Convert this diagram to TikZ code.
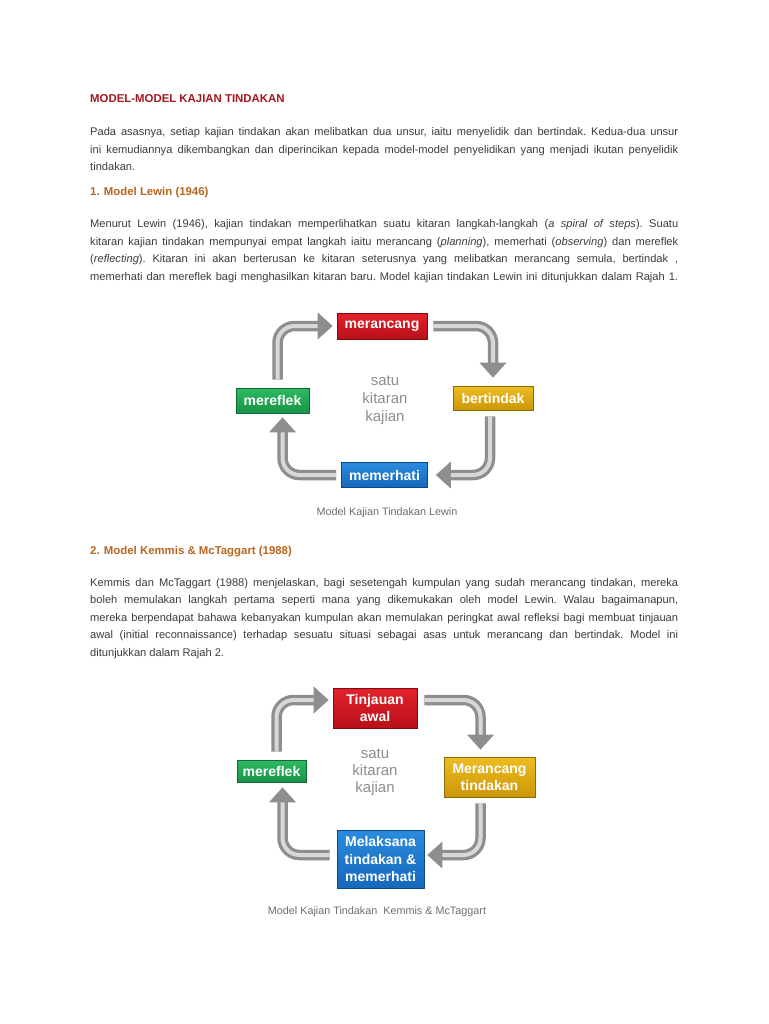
\documentclass[tikz,border=0pt]{standalone}
\usepackage{fontspec}
\setmainfont{Liberation Sans}
\usetikzlibrary{arrows.meta, positioning}
\definecolor{titlered}{HTML}{A3191E}
\definecolor{headbrown}{HTML}{B8661E}
\definecolor{bodygray}{HTML}{3C3C3C}
\definecolor{centergray}{HTML}{8E8E8E}
\definecolor{captiongray}{HTML}{6E6E6E}
\definecolor{tubedark}{HTML}{8E8E8E}
\definecolor{tubelite}{HTML}{D8D8D8}
\definecolor{redtop}{HTML}{E3222B}
\definecolor{redbot}{HTML}{B8101A}
\definecolor{redline}{HTML}{7E0A10}
\definecolor{goldtop}{HTML}{EDBD22}
\definecolor{goldbot}{HTML}{CC9606}
\definecolor{goldline}{HTML}{8E6A06}
\definecolor{greentop}{HTML}{2EBA62}
\definecolor{greenbot}{HTML}{169446}
\definecolor{greenline}{HTML}{0E6A32}
\definecolor{bluetop}{HTML}{2A8BDE}
\definecolor{bluebot}{HTML}{1668BA}
\definecolor{blueline}{HTML}{0D4884}
\tikzstyle{bodytext} = [anchor=base west, inner sep=0pt, text width=588pt,
    align=justify, text=bodygray, font=\fontsize{11.1}{17.5}\selectfont\frenchspacing]
\tikzstyle{heading} = [anchor=base west, inner sep=0pt,
    font=\fontsize{11.4}{13}\selectfont\bfseries]
\tikzstyle{stepbox} = [rectangle, draw, line width=0.6pt, text=white, align=center,
    inner sep=0pt, font=\fontsize{14}{17.5}\selectfont\bfseries]
\tikzstyle{redbox} = [stepbox, top color=redtop, bottom color=redbot, draw=redline]
\tikzstyle{goldbox} = [stepbox, top color=goldtop, bottom color=goldbot, draw=goldline]
\tikzstyle{greenbox} = [stepbox, top color=greentop, bottom color=greenbot, draw=greenline]
\tikzstyle{bluebox} = [stepbox, top color=bluetop, bottom color=bluebot, draw=blueline]
\tikzstyle{cycletext} = [align=center, text=centergray, font=\fontsize{15}{18}\selectfont]
\tikzstyle{caption} = [text=captiongray, font=\fontsize{10.8}{12}\selectfont]
\tikzstyle{tube} = [line width=10.5pt, draw=tubedark, rounded corners=17pt,
    -{Triangle[width=26pt,length=15pt]}]
\tikzstyle{tubelight} = [line width=4pt, draw=tubelite, rounded corners=17pt]

\begin{document}
\begin{tikzpicture}[x=1pt, y=-1pt]
  \useasboundingbox[fill=white] (0,0) rectangle (768,1024);

  % Text
  \node[heading, text=titlered] (title) at (90,103) {MODEL-MODEL KAJIAN TINDAKAN};
  \node[bodytext] (para1) at (90,136) {Pada asasnya, setiap kajian tindakan akan melibatkan dua unsur, iaitu menyelidik dan bertindak. Kedua-dua unsur\linebreak
    ini kemudiannya dikembangkan dan diperincikan kepada model-model penyelidikan yang menjadi ikutan penyelidik\linebreak
    tindakan.};
  \node[heading, text=headbrown] (head1) at (90,196) {1. Model Lewin (1946)};
  \node[bodytext] (para2) at (90,228) {Menurut Lewin (1946), kajian tindakan memperlihatkan suatu kitaran langkah-langkah (\textit{a spiral of steps}). Suatu\linebreak
    kitaran kajian tindakan mempunyai empat langkah iaitu merancang (\textit{planning}), memerhati (\textit{observing}) dan mereflek\linebreak
    (\textit{reflecting}). Kitaran ini akan berterusan ke kitaran seterusnya yang melibatkan merancang semula, bertindak ,\linebreak
    memerhati dan mereflek bagi menghasilkan kitaran baru. Model kajian tindakan Lewin ini ditunjukkan dalam Rajah 1.\parfillskip=0pt\par};
  \node[heading, text=headbrown] (head2) at (90,554) {2. Model Kemmis \& McTaggart (1988)};
  \node[bodytext] (para3) at (90,586) {Kemmis dan McTaggart (1988) menjelaskan, bagi sesetengah kumpulan yang sudah merancang tindakan, mereka\linebreak
    boleh memulakan langkah pertama seperti mana yang dikemukakan oleh model Lewin. Walau bagaimanapun,\linebreak
    mereka berpendapat bahawa kebanyakan kumpulan akan memulakan peringkat awal refleksi bagi membuat tinjauan\linebreak
    awal (initial reconnaissance) terhadap sesuatu situasi sebagai asas untuk merancang dan bertindak. Model ini\linebreak
    ditunjukkan dalam Rajah 2.};

  % Rajah 1: Lewin
  \node[redbox, minimum width=90pt, minimum height=26pt] (merancang) at (382,326) {merancang};
  \node[goldbox, minimum width=80pt, minimum height=24pt] (bertindak) at (493,398) {bertindak};
  \node[greenbox, minimum width=73pt, minimum height=25pt] (mereflek) at (272.5,400.5) {mereflek};
  \node[bluebox, minimum width=86pt, minimum height=25pt] (memerhati) at (384.5,475) {memerhati};
  \node[cycletext] (kitaran) at (385,400) {satu\\kitaran\\kajian};
  \node[caption] (cap1) at (387,513) {Model Kajian Tindakan Lewin};

  \draw[tube, shorten >=4pt] ([xshift=5pt,yshift=8pt]mereflek.north) |- (merancang.west);
  \draw[tubelight, shorten >=19pt] ([xshift=5pt,yshift=8pt]mereflek.north) |- (merancang.west);
  \draw[tube, shorten >=8pt] ([xshift=6pt]merancang.east) -| (bertindak.north);
  \draw[tubelight, shorten >=23pt] ([xshift=6pt]merancang.east) -| (bertindak.north);
  \draw[tube, shorten >=8pt] ([xshift=-3pt,yshift=-6pt]bertindak.south) |- (memerhati.east);
  \draw[tubelight, shorten >=23pt] ([xshift=-3pt,yshift=-6pt]bertindak.south) |- (memerhati.east);
  \draw[tube, shorten >=4pt] ([xshift=-5pt]memerhati.west) -| ([xshift=10pt]mereflek.south);
  \draw[tubelight, shorten >=19pt] ([xshift=-5pt]memerhati.west) -| ([xshift=10pt]mereflek.south);

  % Rajah 2: Kemmis & McTaggart
  \node[redbox, minimum width=84pt, minimum height=40pt] (tinjauan) at (375,708) {Tinjauan\\awal};
  \node[goldbox, minimum width=91pt, minimum height=40pt] (mrtindakan) at (489.5,777) {Merancang\\tindakan};
  \node[greenbox, minimum width=69pt, minimum height=22pt] (mereflekb) at (271.5,771) {mereflek};
  \node[bluebox, minimum width=87pt, minimum height=58pt] (melaksana) at (380.5,859) {Melaksana\\tindakan \&\\memerhati};
  \node[cycletext, font=\fontsize{15}{17}\selectfont] (kitaranb) at (375,772) {satu\\kitaran\\kajian};
  \node[caption] (cap2) at (377,912) {Model Kajian Tindakan\ \ Kemmis \& McTaggart};

  \draw[tube, shorten >=4pt] ([xshift=5pt,yshift=8pt]mereflekb.north) |- ([yshift=8pt]tinjauan.west);
  \draw[tubelight, shorten >=19pt] ([xshift=5pt,yshift=8pt]mereflekb.north) |- ([yshift=8pt]tinjauan.west);
  \draw[tube, shorten >=7pt] ([xshift=7pt,yshift=8pt]tinjauan.east) -| ([xshift=-9pt]mrtindakan.north);
  \draw[tubelight, shorten >=22pt] ([xshift=7pt,yshift=8pt]tinjauan.east) -| ([xshift=-9pt]mrtindakan.north);
  \draw[tube, shorten >=3pt] ([xshift=-9pt,yshift=-6pt]mrtindakan.south) |- ([yshift=4pt]melaksana.east);
  \draw[tubelight, shorten >=18pt] ([xshift=-9pt,yshift=-6pt]mrtindakan.south) |- ([yshift=4pt]melaksana.east);
  \draw[tube, shorten >=5pt] ([xshift=-7pt,yshift=4pt]melaksana.west) -| ([xshift=11pt]mereflekb.south);
  \draw[tubelight, shorten >=20pt] ([xshift=-7pt,yshift=4pt]melaksana.west) -| ([xshift=11pt]mereflekb.south);
\end{tikzpicture}
\end{document}
